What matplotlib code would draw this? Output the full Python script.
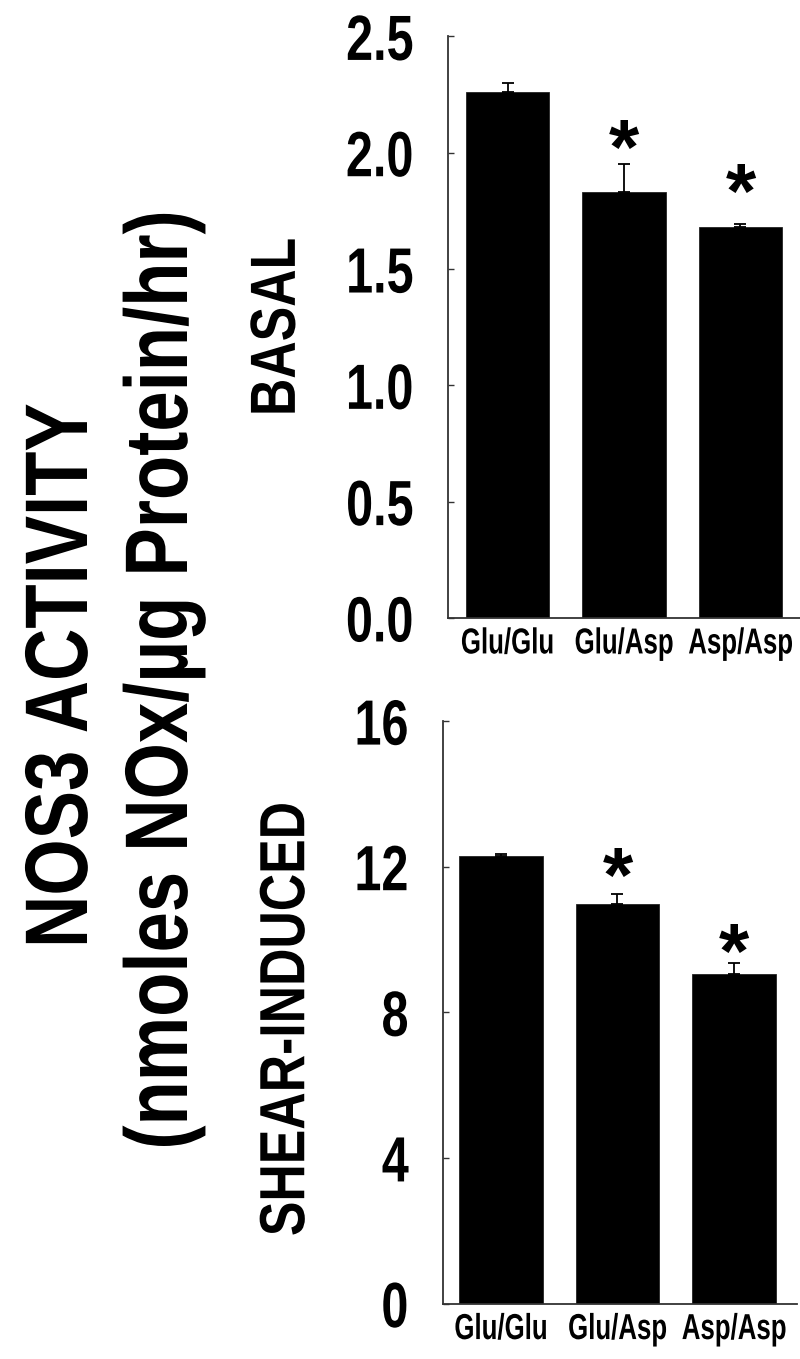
import numpy as np
import matplotlib
matplotlib.use("Agg")
import matplotlib.pyplot as plt
from matplotlib import patheffects
from matplotlib.transforms import Affine2D

# values
genotypes = ["Glu/Glu", "Glu/Asp", "Asp/Asp"]

basal_mean = [2.26, 1.83, 1.68]
basal_err = [0.04, 0.12, 0.015]
basal_star = [np.nan, 2.10, 1.91]      # height of the "*" centre
basal_ticks = [0.0, 0.5, 1.0, 1.5, 2.0, 2.5]
basal_ticklabels = ["0.0", "0.5", "1.0", "1.5", "2.0", "2.5"]

shear_mean = [12.29, 10.98, 9.05]
shear_err = [0.07, 0.27, 0.30]
shear_star = [np.nan, 12.25, 10.17]
shear_ticks = [0, 4, 8, 12, 16]
shear_ticklabels = ["0", "4", "8", "12", "16"]


class Squeeze(patheffects.AbstractPathEffect):
    # no condensed font installed -> reshape the glyphs (sx along the baseline,
    # sy across it, about the cap middle)
    def __init__(self, sx=0.8, sy=1.0, anchor=0.5, y0=36.0):
        super().__init__()
        self.sx = sx
        self.sy = sy
        self.anchor = anchor
        self.y0 = y0

    def draw_path(self, renderer, gc, tpath, affine, rgbFace=None):
        ext = tpath.get_extents()
        x0 = ext.x0 + self.anchor * ext.width
        sq = (Affine2D().translate(-x0, -self.y0)
              .scale(self.sx, self.sy)
              .translate(x0, self.y0))
        renderer.draw_path(gc, tpath, sq + affine, rgbFace)


plt.rcParams["font.family"] = ["Liberation Sans", "DejaVu Sans"]
plt.rcParams["font.weight"] = "bold"

fig = plt.figure(figsize=(8, 13.59), dpi=100)
ax_top = fig.add_axes([0.56, 0.5453, 0.44, 0.4279])
ax_bot = fig.add_axes([0.55375, 0.0408, 0.4425, 0.4286])


def draw_panel(ax, mean, err, star, ticks, ticklabels, xlim, ylabel, label_x, label_y):
    x = np.arange(len(genotypes))
    ax.bar(x, mean, width=0.715, color="black", edgecolor="#222222", linewidth=0.6, zorder=2)
    ax.errorbar(x, mean, yerr=[np.zeros(len(x)), err], fmt="none", ecolor="black",
                elinewidth=1.3, capsize=4.3, capthick=1.3, zorder=3)
    for xi, sy in zip(x, star):
        if np.isfinite(sy):
            ax.annotate("*", xy=(xi, sy), xytext=(0, -32), textcoords="offset points",
                        ha="center", va="baseline", fontsize=56, fontweight="bold")

    ax.set_xlim(*xlim)
    ax.set_ylim(ticks[0], ticks[-1])
    ax.set_yticks(ticks)
    ax.set_yticklabels(ticklabels)
    ax.set_xticks(x)
    ax.set_xticklabels(genotypes)

    for s in ["top", "right"]:
        ax.spines[s].set_visible(False)
    for s in ["left", "bottom"]:
        ax.spines[s].set_linewidth(1.3)
        ax.spines[s].set_color("#333333")

    ax.tick_params(axis="y", direction="in", length=4, width=1.0, color="#333333",
                   pad=24.5, labelsize=46)
    ax.tick_params(axis="x", length=0, pad=9, labelsize=20)
    for lbl in ax.get_yticklabels():
        lbl.set_path_effects([Squeeze(0.76, 1.0, 1.0)])
    for lbl in ax.get_xticklabels():
        lbl.set_path_effects([Squeeze(0.93, 1.3, 0.5)])

    ax.set_ylabel(ylabel, fontsize=46, fontweight="bold", rotation=90,
                  rotation_mode="anchor", ha="center", va="baseline",
                  path_effects=[Squeeze(0.81, 1.0, 0.5)])
    ax.yaxis.set_label_coords(label_x, label_y)


draw_panel(ax_top, basal_mean, basal_err, basal_star, basal_ticks, basal_ticklabels,
           (-0.511, 2.511), "BASAL", -0.435, 0.5)
draw_panel(ax_bot, shear_mean, shear_err, shear_star, shear_ticks, shear_ticklabels,
           (-0.498, 2.541), "SHEAR-INDUCED", -0.392, 0.488)

# shared title on the left, two lines
fig.text(0.10875, 0.5026, "NOS3 ACTIVITY", rotation=90, rotation_mode="anchor",
         ha="center", va="baseline", fontsize=64, fontweight="bold",
         path_effects=[Squeeze(0.815, 1.0, 0.5)])
fig.text(0.23375, 0.4996, "(nmoles NOx/µg Protein/hr)", rotation=90, rotation_mode="anchor",
         ha="center", va="baseline", fontsize=64, fontweight="bold",
         path_effects=[Squeeze(0.815, 1.0, 0.5)])

fig.savefig("out.png", dpi=100)
